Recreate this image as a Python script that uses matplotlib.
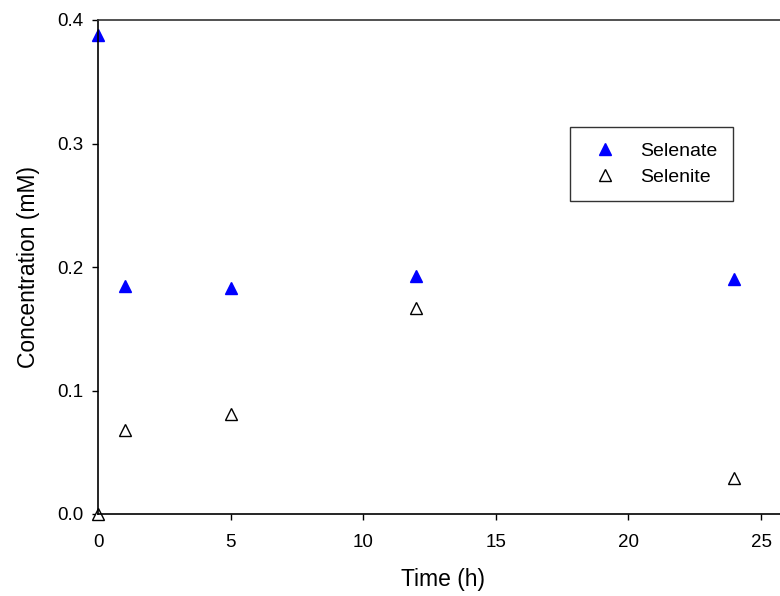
import matplotlib.pyplot as plt

plt.rcParams['font.family'] = ['Liberation Sans', 'DejaVu Sans']

time_h = [0, 1, 5, 12, 24]
selenate = [0.388, 0.185, 0.183, 0.193, 0.190]
selenite = [0.0, 0.068, 0.081, 0.167, 0.029]

fig = plt.figure(figsize=(7.8, 5.96), dpi=100)
# axes run past the right edge of the figure, as in the original
ax = fig.add_axes([98 / 780, 82 / 596, 690 / 780, 494 / 596])

ax.plot(time_h, selenate, linestyle='none', marker='^', ms=9,
        color='blue', mec='blue', label='Selenate', clip_on=False)
ax.plot(time_h, selenite, linestyle='none', marker='^', ms=9,
        mfc='white', mec='black', mew=1.0, label='Selenite', clip_on=False)

ax.set_xlim(0, 690 / 26.52)
ax.set_ylim(0, 0.4)
ax.set_xticks([0, 5, 10, 15, 20, 25])
ax.set_yticks([0.0, 0.1, 0.2, 0.3, 0.4])
ax.set_yticklabels(['0.0', '0.1', '0.2', '0.3', '0.4'])
ax.tick_params(direction='out', length=4.5, width=1, labelsize=13.5)
ax.tick_params(axis='x', pad=10)
ax.tick_params(axis='y', pad=6)

for s in ax.spines.values():
    s.set_linewidth(1.2)
ax.spines['top'].set_color('#333333')

ax.set_xlabel('Time (h)', fontsize=16.5, labelpad=12)
ax.set_ylabel('Concentration (mM)', fontsize=16.5, labelpad=12)

leg = ax.legend(loc='upper left', bbox_to_anchor=(570 / 780, 1 - 127 / 596),
                bbox_transform=fig.transFigure, fontsize=14, frameon=True,
                fancybox=False, edgecolor='black', borderpad=0.8,
                handletextpad=0.8, labelspacing=0.4, borderaxespad=0)
leg.get_frame().set_linewidth(1.0)

fig.savefig('out.png', dpi=100)
